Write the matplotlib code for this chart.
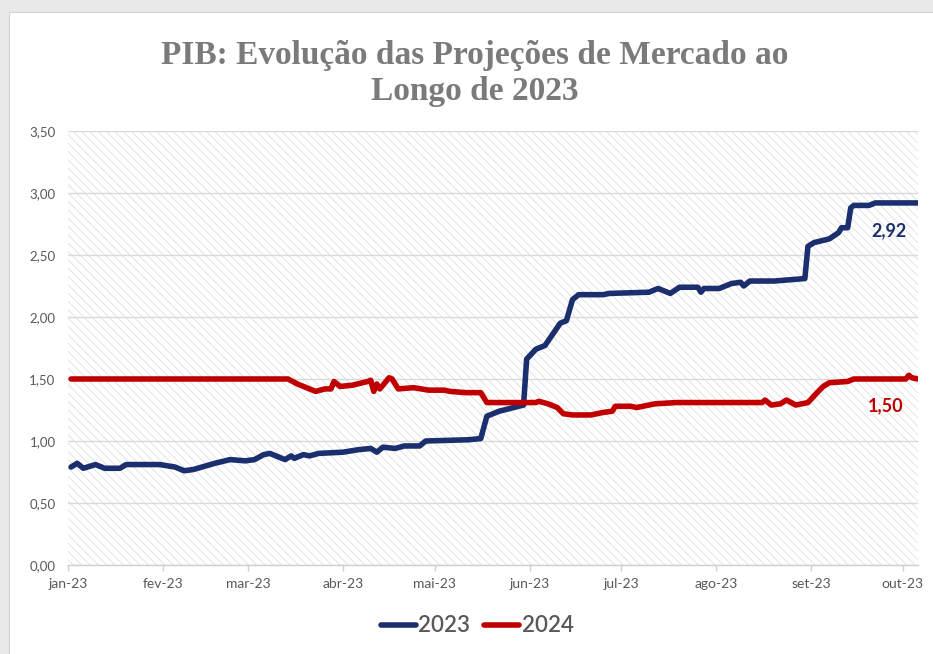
import matplotlib
matplotlib.use('Agg')
import matplotlib.pyplot as plt
from matplotlib.patches import Rectangle
import pandas as pd

# ------------------------------------------------------------------------
# Data: market GDP projections, Focus survey
# ------------------------------------------------------------------------
dates_2023 = ['2023-01-02', '2023-01-04', '2023-01-06', '2023-01-10', '2023-01-13',
              '2023-01-18', '2023-01-20', '2023-01-31', '2023-02-05', '2023-02-08',
              '2023-02-11', '2023-02-18', '2023-02-23', '2023-02-28', '2023-03-03',
              '2023-03-06', '2023-03-08', '2023-03-11', '2023-03-13', '2023-03-15',
              '2023-03-16', '2023-03-19', '2023-03-21', '2023-03-24', '2023-04-01',
              '2023-04-06', '2023-04-10', '2023-04-12', '2023-04-14', '2023-04-18',
              '2023-04-21', '2023-04-26', '2023-04-28', '2023-05-12', '2023-05-16',
              '2023-05-18', '2023-05-22', '2023-05-30', '2023-05-31', '2023-06-03',
              '2023-06-06', '2023-06-11', '2023-06-13', '2023-06-15', '2023-06-17',
              '2023-06-25', '2023-06-27', '2023-07-10', '2023-07-13', '2023-07-17',
              '2023-07-20', '2023-07-26', '2023-07-27', '2023-07-28', '2023-08-02',
              '2023-08-06', '2023-08-09', '2023-08-10', '2023-08-12', '2023-08-20',
              '2023-08-25', '2023-08-30', '2023-08-31', '2023-09-02', '2023-09-07',
              '2023-09-10', '2023-09-11', '2023-09-13', '2023-09-14', '2023-09-15',
              '2023-09-20', '2023-09-22', '2023-10-06']
vals_2023 = [0.79, 0.82, 0.78, 0.81, 0.78,
             0.78, 0.81, 0.81, 0.79, 0.76,
             0.77, 0.82, 0.85, 0.84, 0.85,
             0.89, 0.90, 0.87, 0.85, 0.88,
             0.86, 0.89, 0.88, 0.90, 0.91,
             0.93, 0.94, 0.91, 0.95, 0.94,
             0.96, 0.96, 1.00, 1.01, 1.02,
             1.20, 1.24, 1.29, 1.66, 1.74,
             1.77, 1.95, 1.97, 2.14, 2.18,
             2.18, 2.19, 2.20, 2.23, 2.19,
             2.24, 2.24, 2.20, 2.23, 2.23,
             2.27, 2.28, 2.25, 2.29, 2.29,
             2.30, 2.31, 2.57, 2.60, 2.63,
             2.68, 2.72, 2.72, 2.88, 2.90,
             2.90, 2.92, 2.92]

dates_2024 = ['2023-01-02', '2023-03-14', '2023-03-17', '2023-03-20', '2023-03-23',
              '2023-03-26', '2023-03-28', '2023-03-29', '2023-03-31', '2023-04-04',
              '2023-04-09', '2023-04-10', '2023-04-11', '2023-04-12', '2023-04-13',
              '2023-04-16', '2023-04-17', '2023-04-19', '2023-04-24', '2023-04-29',
              '2023-05-04', '2023-05-06', '2023-05-11', '2023-05-16', '2023-05-18',
              '2023-06-03', '2023-06-04', '2023-06-07', '2023-06-10', '2023-06-12',
              '2023-06-15', '2023-06-21', '2023-06-25', '2023-06-28', '2023-06-29',
              '2023-07-04', '2023-07-06', '2023-07-12', '2023-07-19', '2023-08-16',
              '2023-08-17', '2023-08-19', '2023-08-22', '2023-08-24', '2023-08-27',
              '2023-08-31', '2023-09-03', '2023-09-05', '2023-09-07', '2023-09-13',
              '2023-09-15', '2023-10-02', '2023-10-03', '2023-10-04', '2023-10-06']
vals_2024 = [1.50, 1.50, 1.46, 1.43, 1.40,
             1.42, 1.42, 1.48, 1.44, 1.45,
             1.48, 1.49, 1.40, 1.46, 1.42,
             1.51, 1.50, 1.42, 1.43, 1.41,
             1.41, 1.40, 1.39, 1.39, 1.31,
             1.31, 1.32, 1.30, 1.27, 1.22,
             1.21, 1.21, 1.23, 1.24, 1.28,
             1.28, 1.27, 1.30, 1.31, 1.31,
             1.33, 1.29, 1.30, 1.33, 1.29,
             1.31, 1.39, 1.44, 1.47, 1.48,
             1.50, 1.50, 1.53, 1.51, 1.50]

month_labels = ['jan-23', 'fev-23', 'mar-23', 'abr-23', 'mai-23',
                'jun-23', 'jul-23', 'ago-23', 'set-23', 'out-23']
y_ticks = [0.0, 0.5, 1.0, 1.5, 2.0, 2.5, 3.0, 3.5]
title_lines = ['PIB: Evolução das Projeções de Mercado ao', 'Longo de 2023']

# ------------------------------------------------------------------------
# Styling
# ------------------------------------------------------------------------
blue = '#1b2f6e'
red = '#c00000'
txt_gray = '#595959'
grid_gray = '#dadada'

plt.rcParams['font.family'] = ['Lato', 'DejaVu Sans']
plt.rcParams['hatch.color'] = '#dedede'
plt.rcParams['hatch.linewidth'] = 0.6

fig = plt.figure(figsize=(9.33, 6.54), dpi=100)
fig.patch.set_facecolor('white')

# screenshot frame (gray band top/left)
fig.patches.append(Rectangle((0, 1 - 12 / 654), 1, 12 / 654, transform=fig.transFigure,
                             facecolor='#e8e8e8', edgecolor='none', zorder=0))
fig.patches.append(Rectangle((0, 0), 9 / 933, 1, transform=fig.transFigure,
                             facecolor='#e8e8e8', edgecolor='none', zorder=0))
fig.patches.append(Rectangle((9 / 933, -0.01), 1, 1 - 12 / 654 + 0.01, transform=fig.transFigure,
                             facecolor='none', edgecolor='#d4d4d4', lw=0.8, zorder=0))

ax = fig.add_axes([68 / 933, 1 - 565 / 654, (918 - 68) / 933, (565 - 131) / 654])
ax.set_facecolor('white')

# hatched plot area
ax.add_patch(Rectangle((0, 0), 1, 1, transform=ax.transAxes, facecolor='white',
                       edgecolor='#dedede', hatch='\\\\\\\\', lw=0, zorder=0))

x23 = pd.to_datetime(dates_2023)
x24 = pd.to_datetime(dates_2024)

ax.plot(x23, vals_2023, color=blue, lw=4, solid_joinstyle='round',
        solid_capstyle='round', label='2023', zorder=3)
ax.plot(x24, vals_2024, color=red, lw=4, solid_joinstyle='round',
        solid_capstyle='round', label='2024', zorder=3)

ax.set_xlim(pd.Timestamp('2023-01-01'), pd.Timestamp('2023-10-06'))
ax.set_ylim(0, 3.5)

month_ticks = pd.date_range('2023-01-01', '2023-10-01', freq='MS')
ax.set_xticks(month_ticks)
ax.set_xticklabels(month_labels)
ax.set_yticks(y_ticks)
ax.set_yticklabels([f'{v:.2f}'.replace('.', ',') for v in y_ticks])

ax.grid(axis='y', color=grid_gray, lw=1.0, zorder=1)
ax.set_axisbelow(True)
for s in ['top', 'right', 'left']:
    ax.spines[s].set_visible(False)
ax.spines['bottom'].set_color('#cfcfcf')
ax.spines['bottom'].set_linewidth(1.0)

ax.tick_params(axis='x', colors='#cfcfcf', length=4, width=1, pad=5,
               labelcolor=txt_gray, labelsize=10)
ax.tick_params(axis='y', length=0, pad=9, labelcolor=txt_gray, labelsize=9.5)

# end labels
ax.annotate('2,92', xy=(x23[-1], vals_2023[-1]), xytext=(-21, -20),
            textcoords='offset points', ha='center', va='center',
            color=blue, fontsize=13, fontweight='bold')
ax.annotate('1,50', xy=(x24[-1], vals_2024[-1]), xytext=(-23, -19),
            textcoords='offset points', ha='center', va='center',
            color=red, fontsize=13, fontweight='bold')

# title, two lines placed on their baselines
for line, y_px in zip(title_lines, [64, 100]):
    fig.text(475 / 933, 1 - y_px / 654, line, ha='center', va='baseline',
             fontsize=24, fontweight='bold', color='#7a7a7a', family='Liberation Serif')

# legend
fig.legend(loc='center', bbox_to_anchor=(477 / 933, 1 - 626 / 654), ncol=2,
           frameon=False, prop={'size': 16, 'weight': 'semibold'},
           labelcolor=txt_gray, handlelength=1.6,
           handletextpad=0.1, columnspacing=0.6)

fig.savefig('out.png', dpi=100, facecolor=fig.get_facecolor())
